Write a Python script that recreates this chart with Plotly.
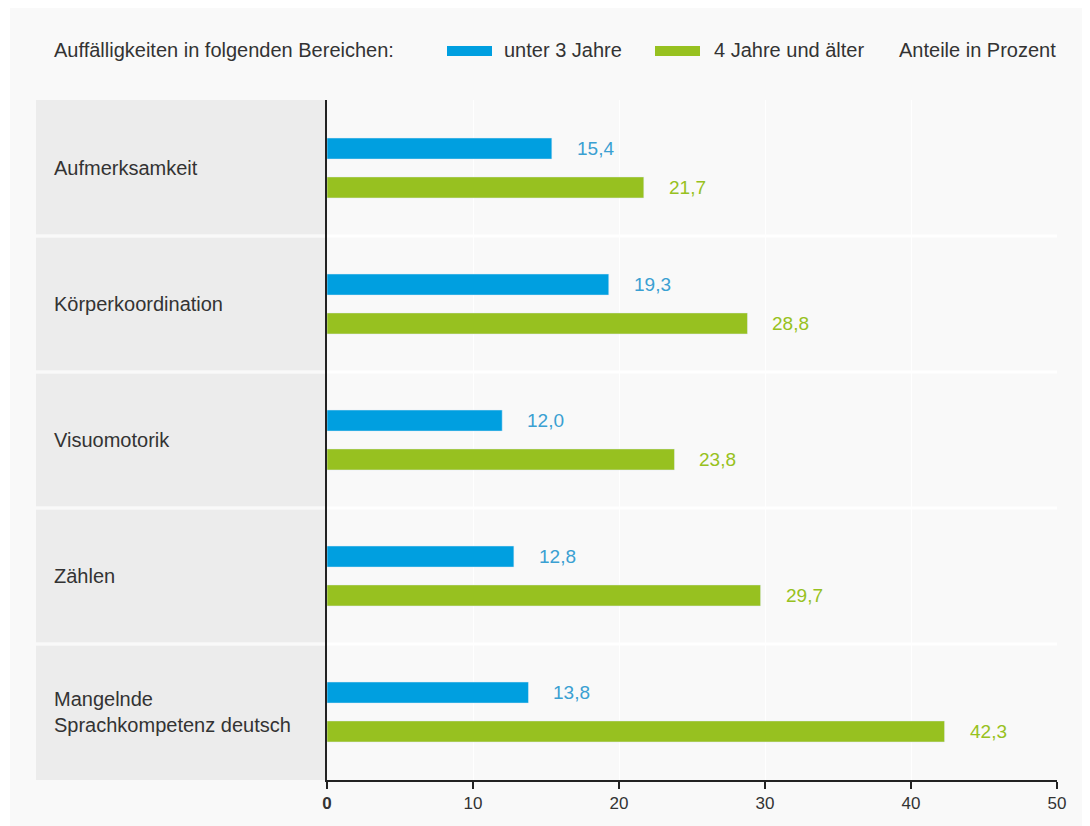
import plotly.graph_objects as go

categories = ["Aufmerksamkeit", "Körperkoordination", "Visuomotorik", "Zählen",
              "Mangelnde<br>Sprachkompetenz deutsch"]
under3 = [15.4, 19.3, 12.0, 12.8, 13.8]
over4 = [21.7, 28.8, 23.8, 29.7, 42.3]
tick_vals = [0, 10, 20, 30, 40, 50]
tick_text = ["<b>0</b>", "10", "20", "30", "40", "50"]
series_names = ["unter 3 Jahre", "4 Jahre und älter"]
legend_title = "Auffälligkeiten in folgenden Bereichen:"
unit_note = "Anteile in Prozent"

BLUE = "#009fe0"
GREEN = "#97c120"
BLUE_TXT = "#3aa0d2"
GREEN_TXT = "#97c120"
SANS = "Liberation Sans, Arial, sans-serif"

# page body has an 8px margin; work in page pixels and convert
OFF = 8
W, H = 1090 - OFF, 826 - OFF
L, R, T, B = 327, 1057, 100, 780


def px(x):
    return (x - L) / (R - L)


def py(y):
    return (B - y) / (B - T)


ypos = list(range(len(categories)))
fig = go.Figure()
bw = 0.155
fig.add_trace(go.Bar(y=ypos, x=under3, orientation="h", marker_color=BLUE,
                     width=bw, offset=-0.143 - bw / 2, name=series_names[0],
                     hoverinfo="x+name"))
fig.add_trace(go.Bar(y=ypos, x=over4, orientation="h", marker_color=GREEN,
                     width=bw, offset=0.143 - bw / 2, name=series_names[1],
                     hoverinfo="x+name"))

shapes = []
annotations = []
shapes.append(dict(type="rect", xref="paper", yref="paper", x0=px(10), x1=px(1100),
                   y0=py(7), y1=py(840), fillcolor="#f9f9f9", line_width=0, layer="below"))
n = len(categories)
for i, c in enumerate(categories):
    shapes.append(dict(type="rect", xref="paper", yref="y", x0=px(36), x1=px(325),
                       y0=i - 0.5 + (0.012 if i > 0 else 0),
                       y1=i + 0.5 - 0.012 if i < n - 1 else i + 0.5,
                       fillcolor="#ececec", line_width=0, layer="below"))
    annotations.append(dict(xref="paper", yref="y", x=px(52), y=i, text=c,
                            showarrow=False, xanchor="left", yanchor="middle", align="left",
                            font=dict(family=SANS, size=20, color="#333333")))
    if i > 0:
        shapes.append(dict(type="line", xref="paper", yref="y", x0=px(327), x1=1,
                           y0=i - 0.5, y1=i - 0.5, line=dict(color="#ffffff", width=3),
                           layer="below"))
    annotations.append(dict(x=under3[i], y=i - 0.143, xref="x", yref="y",
                            text=f"{under3[i]:.1f}".replace(".", ","), showarrow=False,
                            xanchor="left", yanchor="middle", xshift=23,
                            font=dict(family=SANS, size=19, color=BLUE_TXT)))
    annotations.append(dict(x=over4[i], y=i + 0.143, xref="x", yref="y",
                            text=f"{over4[i]:.1f}".replace(".", ","), showarrow=False,
                            xanchor="left", yanchor="middle", xshift=23,
                            font=dict(family=SANS, size=19, color=GREEN_TXT)))

leg_y = py(50)
LEGF = dict(family=SANS, size=20, color="#333333")
annotations.append(dict(xref="paper", yref="paper", x=px(52), y=leg_y, text=legend_title,
                        showarrow=False, xanchor="left", yanchor="middle", font=LEGF))
shapes.append(dict(type="rect", xref="paper", yref="paper", x0=px(447), x1=px(492),
                   y0=py(46), y1=py(56), fillcolor=BLUE, line_width=0))
annotations.append(dict(xref="paper", yref="paper", x=px(502), y=leg_y, text=series_names[0],
                        showarrow=False, xanchor="left", yanchor="middle", font=LEGF))
shapes.append(dict(type="rect", xref="paper", yref="paper", x0=px(655), x1=px(700),
                   y0=py(46), y1=py(56), fillcolor=GREEN, line_width=0))
annotations.append(dict(xref="paper", yref="paper", x=px(712), y=leg_y, text=series_names[1],
                        showarrow=False, xanchor="left", yanchor="middle", font=LEGF))
annotations.append(dict(xref="paper", yref="paper", x=px(1058), y=leg_y, text=unit_note,
                        showarrow=False, xanchor="right", yanchor="middle", font=LEGF))

fig.update_layout(
    width=W, height=H,
    margin=dict(l=L - OFF, r=1090 - R, t=T - OFF, b=826 - B, pad=0),
    paper_bgcolor="#ffffff", plot_bgcolor="#f9f9f9",
    barmode="overlay", showlegend=False,
    shapes=shapes, annotations=annotations,
    xaxis=dict(range=[0, 50], tickvals=tick_vals, ticktext=tick_text,
               showgrid=True, gridcolor="#ffffff", gridwidth=1, zeroline=False,
               showline=True, linecolor="#222222", linewidth=1.5,
               ticks="outside", ticklen=7, tickcolor="#222222", tickwidth=1.5,
               tickfont=dict(family=SANS, size=17, color="#333333"), fixedrange=True),
    yaxis=dict(range=[n - 0.5, -0.5], showticklabels=False,
               showgrid=False, zeroline=False, showline=True, linecolor="#222222",
               linewidth=1.5, ticks="", fixedrange=True),
)

fig.write_html("out.html")
